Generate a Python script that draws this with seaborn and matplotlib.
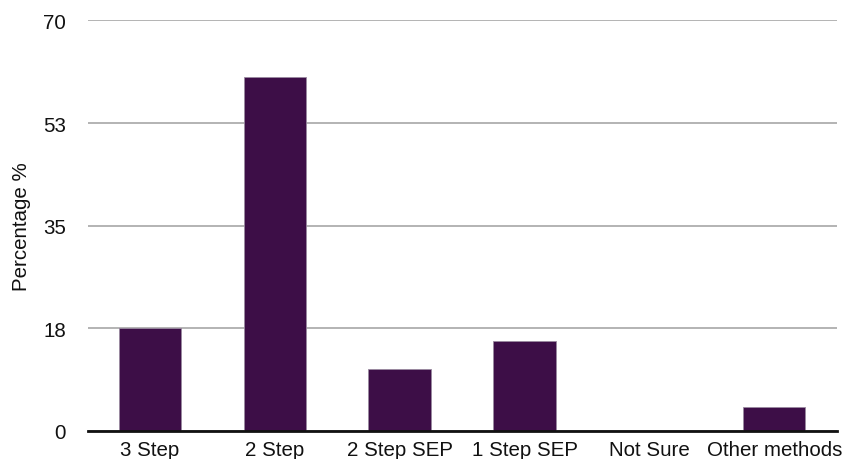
import matplotlib
matplotlib.use("Agg")
import matplotlib.pyplot as plt
import seaborn as sns
import pandas as pd

categories = ["3 Step", "2 Step", "2 Step SEP", "1 Step SEP", "Not Sure", "Other methods"]
percentages = [17.5, 60.4, 10.5, 15.3, 0.0, 4.0]
y_ticks = [0, 17.5, 35, 52.5, 70]
y_tick_labels = ["0", "18", "35", "53", "70"]

sns.set_theme(style="white")
plt.rcParams["font.family"] = ["Liberation Sans", "DejaVu Sans"]

df = pd.DataFrame({"Method": categories, "Percentage": percentages})

fig = plt.figure(figsize=(8.42, 4.6), dpi=100)
ax = fig.add_axes([0.104, 0.061, 0.8897, 0.8924])

sns.barplot(data=df, x="Method", y="Percentage", color="#3d0e47",
            width=0.5, saturation=1, edgecolor="#9a8aa0", linewidth=0.6, ax=ax,
            zorder=3)

ax.set_xlim(-0.5, len(categories) - 0.5)
ax.set_ylim(0, 70)
ax.set_yticks(y_ticks)
ax.set_yticklabels(y_tick_labels)
ax.yaxis.grid(True, color="#b3b3b3", linewidth=1.4, zorder=0)
ax.set_axisbelow(True)

for side in ("top", "right", "left"):
    ax.spines[side].set_visible(False)
ax.spines["bottom"].set_color("#111111")
ax.spines["bottom"].set_linewidth(2)
ax.spines["bottom"].set_zorder(4)

ax.tick_params(axis="y", length=0, pad=15.5, labelsize=14.8, labelcolor="#111111")
ax.tick_params(axis="x", length=0, pad=6.5, labelsize=14.8, labelcolor="#111111")
ax.set_xlabel("")
ax.set_ylabel("Percentage %", fontsize=14.8, color="#111111", labelpad=8.5)

fig.savefig("out.png", dpi=100)
